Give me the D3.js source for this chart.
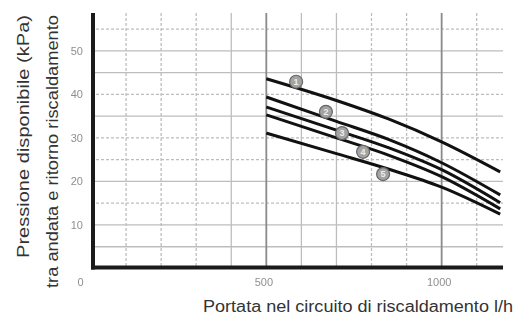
<!DOCTYPE html>
<html>
<head>
<meta charset="utf-8">
<script src="https://cdn.jsdelivr.net/npm/d3@7"></script>
<style>
  body { margin: 0; background: #fff; }
  svg { display: block; font-family: "Liberation Sans", Arial, sans-serif; }
</style>
</head>
<body>
<svg id="chart" width="517" height="318"></svg>
<script>
// curve data: flow (l/h) vs available pressure (kPa)
const flow = [500, 700, 850, 1000, 1167];
const curve1 = [43.6, 38.6, 34.3, 29.1, 22.2];
const curve2 = [39.4, 33.8, 29.6, 24.3, 16.9];
const curve3 = [37.1, 31.8, 27.7, 22.7, 15.1];
const curve4 = [35.3, 30.0, 26.0, 21.1, 13.7];
const curve5 = [31.1, 26.4, 22.8, 18.7, 12.5];
const curves = [curve1, curve2, curve3, curve4, curve5];

// numbered markers on the curves
const markerNames = ["1", "2", "3", "4", "5"];
const markerFlow = [585, 670, 716, 776, 833];
const markerPressure = [42.9, 36.0, 31.1, 26.8, 21.7];

const yTicks = [10, 20, 30, 40, 50];
const xTicks = [0, 500, 1000];
const yGrid = [5, 10, 15, 20, 25, 30, 35, 40, 45, 50, 55];
const yGridDashed = [55, 40, 30, 25, 15];
const xGrid = [100, 200, 300, 400, 600, 700, 800, 900, 1100];
const xGridDashed = [100, 200, 300, 800, 900, 1100];
const xGridMajor = [500, 1000];

const svg = d3.select("#chart");

// slight blur, the tick numbers in the scan are soft
svg.append("defs")
  .append("filter")
  .attr("id", "soft")
  .append("feGaussianBlur")
  .attr("stdDeviation", 0.45);

const x = d3.scaleLinear().domain([0, 1175]).range([91, 503]);
const y = d3.scaleLinear().domain([0, 58.7]).range([268.5, 13]);

// grid
const grid = svg.append("g").attr("id", "grid");
grid.selectAll(".hgrid")
  .data(yGrid)
  .enter()
  .append("line")
  .attr("x1", x(0))
  .attr("x2", x(1175))
  .attr("y1", (d) => y(d))
  .attr("y2", (d) => y(d))
  .attr("stroke", "#bdbdbd")
  .attr("stroke-width", 1.3)
  .attr("stroke-dasharray", (d) => (yGridDashed.includes(d) ? "3,2" : null));

grid.selectAll(".vgrid")
  .data(xGrid)
  .enter()
  .append("line")
  .attr("x1", (d) => x(d))
  .attr("x2", (d) => x(d))
  .attr("y1", y(58.7))
  .attr("y2", y(0))
  .attr("stroke", "#bdbdbd")
  .attr("stroke-width", 1.3)
  .attr("stroke-dasharray", (d) => (xGridDashed.includes(d) ? "3,2" : null));

grid.selectAll(".vmajor")
  .data(xGridMajor)
  .enter()
  .append("line")
  .attr("x1", (d) => x(d))
  .attr("x2", (d) => x(d))
  .attr("y1", y(58.7))
  .attr("y2", y(0))
  .attr("stroke", "#8a8a8a")
  .attr("stroke-width", 1.8);

// axis lines
svg.append("line")
  .attr("x1", x(0) + 2).attr("x2", x(0) + 2)
  .attr("y1", y(58.7)).attr("y2", y(0) + 1)
  .attr("stroke", "#1a1a1a").attr("stroke-width", 4);
svg.append("line")
  .attr("x1", x(0)).attr("x2", x(1175))
  .attr("y1", y(0) - 1).attr("y2", y(0) - 1)
  .attr("stroke", "#1a1a1a").attr("stroke-width", 4);

// tick labels
const yAxis = svg.append("g")
  .attr("transform", `translate(${x(0)},0)`)
  .call(d3.axisLeft(y).tickValues(yTicks).tickSize(0).tickPadding(8));
const xAxis = svg.append("g")
  .attr("transform", `translate(0,${y(0)})`)
  .call(d3.axisBottom(x).tickValues(xTicks).tickFormat(d3.format("d")).tickSize(0).tickPadding(10));
[yAxis, xAxis].forEach((g) => {
  g.select(".domain").remove();
  g.selectAll("text")
    .attr("font-family", "\"Liberation Sans\", Arial, sans-serif")
    .attr("font-size", 11)
    .attr("fill", "#8f8f8f")
    .attr("filter", "url(#soft)");
});
xAxis.selectAll(".tick text").attr("dx", (d) => (d === 0 ? -11 : -3));

// curves
const line = d3.line()
  .x((d) => x(d[0]))
  .y((d) => y(d[1]))
  .curve(d3.curveMonotoneX);

svg.append("g")
  .selectAll("path")
  .data(curves.map((c) => flow.map((f, i) => [f, c[i]])))
  .enter()
  .append("path")
  .attr("d", line)
  .attr("fill", "none")
  .attr("stroke", "#111")
  .attr("stroke-width", 3);

// numbered markers
const markers = svg.append("g")
  .selectAll("g")
  .data(markerNames)
  .enter()
  .append("g")
  .attr("transform", (d, i) => `translate(${x(markerFlow[i])},${y(markerPressure[i])})`);
markers.append("circle")
  .attr("r", 6.5)
  .attr("fill", "#a3a3a3")
  .attr("stroke", "#666")
  .attr("stroke-width", 1.2);
markers.append("text")
  .text((d) => d)
  .attr("text-anchor", "middle")
  .attr("dy", "0.35em")
  .attr("font-size", 9)
  .attr("font-weight", "bold")
  .attr("fill", "#eee");

// axis titles
svg.append("text")
  .attr("transform", "translate(29,15) rotate(-90)")
  .attr("text-anchor", "end")
  .attr("font-size", 16)
  .attr("fill", "#333")
  .attr("textLength", 243)
  .attr("lengthAdjust", "spacingAndGlyphs")
  .text("Pressione disponibile (kPa)");
svg.append("text")
  .attr("transform", "translate(58,15) rotate(-90)")
  .attr("text-anchor", "end")
  .attr("font-size", 16)
  .attr("fill", "#333")
  .attr("textLength", 273)
  .attr("lengthAdjust", "spacingAndGlyphs")
  .text("tra andata e ritorno riscaldamento");
svg.append("text")
  .attr("x", 203)
  .attr("y", 312)
  .attr("font-size", 16)
  .attr("fill", "#333")
  .attr("textLength", 310)
  .attr("lengthAdjust", "spacingAndGlyphs")
  .text("Portata nel circuito di riscaldamento l/h");
</script>
</body>
</html>
